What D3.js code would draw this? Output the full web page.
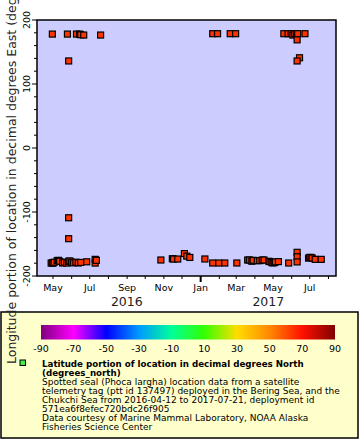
<!DOCTYPE html>
<html><head><meta charset="utf-8">
<script src="https://cdn.jsdelivr.net/npm/d3@7"></script>
<style>
body{margin:0;background:#fff;}
svg text{font-family:"DejaVu Sans",sans-serif;}
</style></head>
<body>
<svg id="c" width="360" height="440"></svg>
<script>
// ---- data ----
const pointDates = [
 // upper cluster (near +180)
 "2016-04-30","2016-05-25","2016-05-27","2016-06-09","2016-06-14","2016-06-16","2016-06-21","2016-07-19",
 "2017-01-21","2017-01-29","2017-02-19","2017-02-28","2017-05-19","2017-05-26","2017-05-31","2017-06-03",
 "2017-06-06","2017-06-09","2017-06-11","2017-06-23","2017-06-10","2017-06-14","2017-06-10",
 // lower cluster (near -180)
 "2016-04-28","2016-04-30","2016-05-01","2016-05-03","2016-05-08","2016-05-10","2016-05-12","2016-05-17",
 "2016-05-20","2016-05-24","2016-05-27","2016-05-29","2016-06-01","2016-06-04","2016-06-08","2016-06-12",
 "2016-06-16","2016-06-26","2016-07-10","2016-07-10","2016-07-12","2016-05-27","2016-05-27",
 "2016-10-27","2016-11-15","2016-11-17","2016-11-24","2016-12-05","2016-12-09","2016-12-14","2017-01-08",
 "2017-01-21","2017-01-31","2017-02-10","2017-03-02","2017-03-20","2017-03-23","2017-03-27","2017-03-29",
 "2017-04-05","2017-04-09","2017-04-13","2017-04-16","2017-04-24","2017-04-26","2017-04-29","2017-05-01",
 "2017-05-03","2017-05-05","2017-05-10","2017-05-27","2017-06-10","2017-06-10","2017-06-10",
 "2017-06-29","2017-07-01","2017-07-03","2017-07-05","2017-07-10","2017-07-20"
];
const pointLons = [
 178,178,136,178,178,177,176.5,176.5,
 178.6,178.6,178.6,178.6,178.6,178.6,178.6,176.5,
 178.6,178.6,178.6,178.6,169,141,136,
 -179.8,-179.5,-179.9,-178.5,-176,-175.5,-177,-179.7,
 -178.5,-179.8,-177,-176.5,-178.5,-179.5,-178.5,-179.6,
 -178.8,-177.8,-174,-179.8,-175.5,-109,-141.7,
 -175,-173,-173.5,-173.5,-165,-169,-171,-173.4,
 -179.7,-179.7,-179.7,-179.7,-175,-175,-177,-175.5,
 -176,-176,-175,-175,-177,-177.5,-179,-179.5,
 -179,-178,-177.5,-179.7,-163,-170,-178,
 -172,-171,-171,-172,-174,-174
];
const yTicks = [-200,-100,0,100,200];
const xTickLabels = ["May","Jul","Sep","Nov","Jan","Mar","May","Jul"];
const yearLabels = ["2016","2017"];
const colorTicks = [-90,-70,-50,-30,-10,10,30,50,70,90];
const rainbowStops = ["#800080","#ff00ff","#0000ff","#0099ff","#00ff99","#33ff00","#ffdd00","#ff8800","#ff1100","#800000"];
const yTitle = "Longitude portion of location in decimal degrees East (degrees_east)";
const legendTitle = ["Latitude portion of location in decimal degrees North","(degrees_north)"];
const legendLines = [
 "Spotted seal (Phoca largha) location data from a satellite",
 "telemetry tag (ptt id 137497) deployed in the Bering Sea, and the",
 "Chukchi Sea from 2016-04-12 to 2017-07-21, deployment id",
 "571ea6f8efec720bdc26f905",
 "Data courtesy of Marine Mammal Laboratory, NOAA Alaska",
 "Fisheries Science Center"
];

// ---- layout ----
const svg = d3.select("#c");
const L=37,R=336,T=20,B=276;
const parse = d3.utcParse("%Y-%m-%d");
const x = d3.scaleUtc().domain([new Date(Date.UTC(2016,3,4,12)), new Date(Date.UTC(2017,7,13,12))]).range([L,R]);
const y = d3.scaleLinear().domain([-200,200]).range([B,T]);

svg.append("rect").attr("x",L).attr("y",T).attr("width",R-L).attr("height",B-T).attr("fill","#ccccff");

// y ticks
const yMinor = d3.range(-200,201,20);
svg.append("g").selectAll("line").data(yMinor).join("line")
 .attr("x1",d=>yTicks.includes(d)?L-5:L-3).attr("x2",L)
 .attr("y1",d=>y(d)).attr("y2",d=>y(d)).attr("stroke","#000").attr("stroke-width",1);
svg.append("g").selectAll("text").data(yTicks).join("text")
 .attr("transform",d=>`translate(30,${y(d)}) rotate(-90)`)
 .attr("text-anchor","middle").attr("font-size",9.5).text(d=>d);

// x ticks
const months = d3.utcMonth.range(new Date(Date.UTC(2016,4,1)), new Date(Date.UTC(2017,7,2)));
svg.append("g").selectAll("line").data(months).join("line")
 .attr("x1",d=>x(d)).attr("x2",d=>x(d)).attr("y1",B)
 .attr("y2",d=>d.getUTCMonth()===0?B+6:B+3)
 .attr("stroke","#000").attr("stroke-width",d=>d.getUTCMonth()===0?2:1);
const labeled = months.filter(d=>d.getUTCMonth()%2===0);
svg.append("g").selectAll("text").data(labeled).join("text")
 .attr("x",d=>x(d)).attr("y",291).attr("text-anchor","middle").attr("font-size",9.5)
 .text((d,i)=>xTickLabels[i]);
const jan17 = new Date(Date.UTC(2017,0,1));
const may16 = new Date(Date.UTC(2016,4,1));
const yearPos = [(x(may16)+x(jan17))/2, (x(jan17)+R)/2];
svg.append("g").selectAll("text").data(yearLabels).join("text")
 .attr("x",(d,i)=>yearPos[i]).attr("y",306).attr("text-anchor","middle").attr("font-size",12.5)
 .attr("fill","#222").text(d=>d);

// points
const pts = pointDates.map((d,i)=>({t:parse(d),v:pointLons[i]}));
svg.append("g").selectAll("rect").data(pts).join("rect")
 .attr("x",d=>x(d.t)-3).attr("y",d=>y(d.v)-3).attr("width",6).attr("height",6)
 .attr("fill","#ff3300").attr("stroke","#000").attr("stroke-width",1.2);

// border
svg.append("rect").attr("x",L).attr("y",T).attr("width",R-L).attr("height",B-T)
 .attr("fill","none").attr("stroke","#000").attr("stroke-width",1.5);

// legend
svg.append("rect").attr("x",1).attr("y",312).attr("width",357).attr("height",126)
 .attr("fill","#ffffcc").attr("stroke","#000").attr("stroke-width",1.5);
const cx = d3.scaleLinear().domain([-90,90]).range([41,335]);
const defs = svg.append("defs");
const grad = defs.append("linearGradient").attr("id","rb");
rainbowStops.forEach((c,i)=>grad.append("stop").attr("offset",(i/(rainbowStops.length-1)*100)+"%").attr("stop-color",c));
svg.append("rect").attr("x",cx(-90)).attr("y",325).attr("width",cx(90)-cx(-90)).attr("height",14.5).attr("fill","url(#rb)");
svg.append("g").selectAll("text").data(colorTicks).join("text")
 .attr("x",d=>cx(d)).attr("y",352).attr("text-anchor","middle").attr("font-size",9.5).text(d=>d);

svg.append("rect").attr("x",20).attr("y",360).attr("width",5.5).attr("height",5.5)
 .attr("fill","#44ee44").attr("stroke","#000").attr("stroke-width",1);
const lt = svg.append("g").attr("font-size",9);
legendTitle.forEach((s,i)=>lt.append("text").attr("x",42).attr("y",367+i*9).attr("font-weight","bold").attr("font-size",8.7).text(s));
legendLines.forEach((s,i)=>lt.append("text").attr("x",42).attr("y",385+i*9).text(s));

// y title
svg.append("text").attr("transform","translate(16,364) rotate(-90)")
 .attr("font-size",12.5).attr("fill","#222").text(yTitle);
</script>
</body></html>
